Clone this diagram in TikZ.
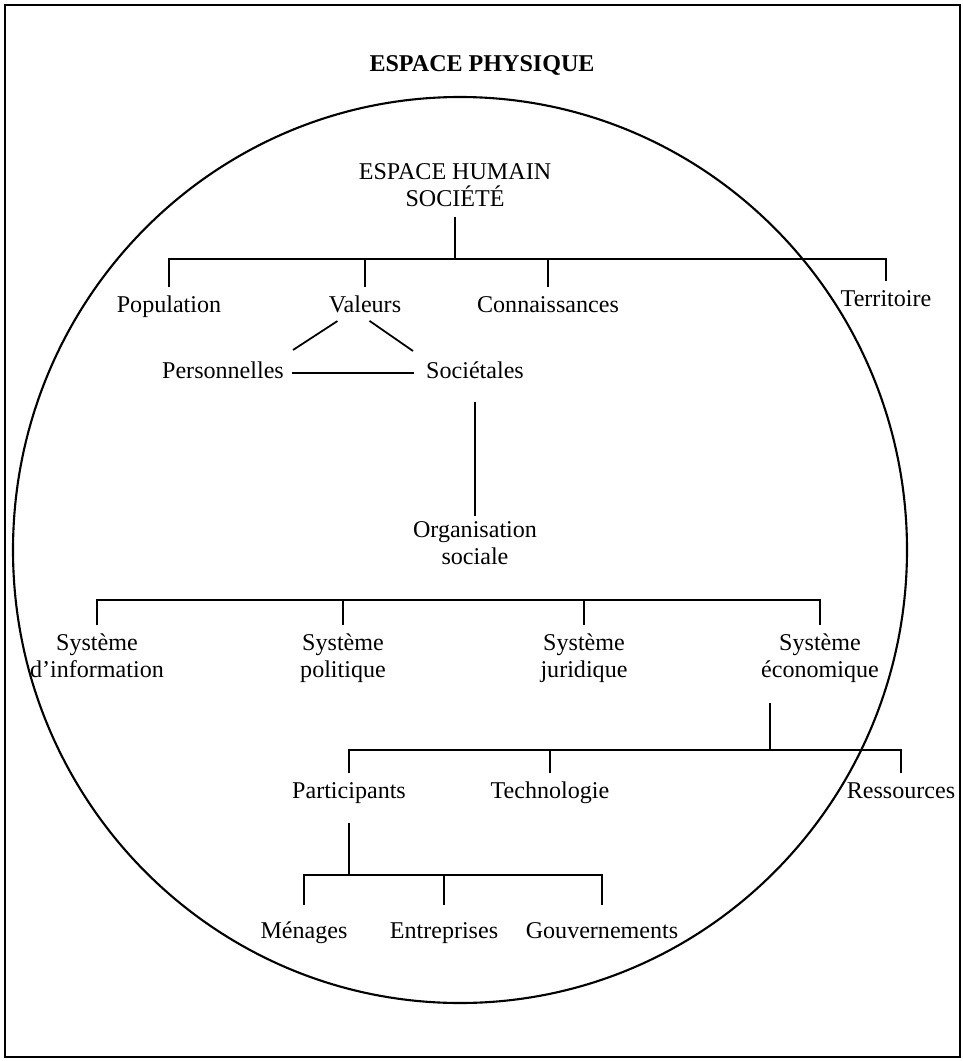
\documentclass[tikz,border=0pt]{standalone}
\usepackage{fontspec}
\setmainfont{Liberation Serif}
\begin{document}
\begin{tikzpicture}
	[	x=0.02cm,y=-0.02cm,
	lbl/.style={inner xsep=2pt,inner ysep=0pt,outer sep=0pt,anchor=north,align=center,font=\fontsize{13.7}{15.3}\selectfont},
	one/.style={lbl,text height=9.4pt},
	title/.style={one,font=\fontsize{13.7}{15.3}\selectfont\bfseries},
	link/.style={line width=1pt},
	tick/.style={link,shorten >=0.18cm},
	]
	\useasboundingbox (0,0) rectangle (963,1061);
	\draw[line width=1pt] (5,5) rectangle (960,1057);
	\draw[line width=1.2pt] (460,550) ellipse [x radius=447,y radius=453];

	\node[title,name=phys] at (482,55) {ESPACE PHYSIQUE};
	\node[lbl,name=hum] at (455,164) {ESPACE HUMAIN\\SOCIÉTÉ};

	\node[one,name=pop] at (169,296) {Population};
	\node[one,name=val] at (365,296) {Valeurs};
	\node[one,name=con] at (548,296) {Connaissances};
	\node[one,name=ter] at (886,290) {Territoire};

	\node[one,name=pers] at (223,362) {Personnelles};
	\node[one,name=soc] at (475,362) {Sociétales};
	\node[lbl,name=org] at (475,522) {Organisation\\sociale};

	\node[lbl,name=sinf] at (97,634) {Système\\d’information};
	\node[lbl,name=spol] at (343,634) {Système\\politique};
	\node[lbl,name=sjur] at (584,634) {Système\\juridique};
	\node[lbl,name=seco] at (820,634) {Système\\économique};

	\node[one,name=part] at (349,782) {Participants};
	\node[one,name=tech] at (550,782) {Technologie};
	\node[one,name=res] at (901,782) {Ressources};

	\node[one,name=men] at (304,922) {Ménages};
	\node[one,name=ent] at (444,922) {Entreprises};
	\node[one,name=gov] at (602,922) {Gouvernements};

	\coordinate (b1) at (455,259);
	\draw[link,shorten <=0.2cm] (hum.south) -- (hum.south |- b1);
	\draw[tick,shorten <=0.18cm] (pop.north) -- (pop |- b1) -- (ter |- b1) -- (ter.north);
	\foreach \nd in {val,con} \draw[tick] (\nd |- b1) -- (\nd.north);

	\draw[link,shorten <=0.3cm] ([shift={(-15,0)}]val.south) -- ([shift={(70,-12)}]pers.north);
	\draw[link,shorten <=0.28cm] ([shift={(-7,0)}]val.south) -- ([shift={(-62,-11)}]soc.north);
	\draw[link,shorten <=0.1cm,shorten >=0.17cm] ([yshift=-0.05cm]pers.east) -- ([yshift=-0.05cm]pers.east -| soc.west);
	\draw[link,shorten <=0.46cm,shorten >=0.12cm] (soc.south) -- (org.north);

	\coordinate (b2) at (475,600);
	\draw[tick,shorten <=0.18cm] (sinf.north) -- (sinf |- b2) -- (seco |- b2) -- (seco.north);
	\foreach \nd in {spol,sjur} \draw[tick] (\nd |- b2) -- (\nd.north);

	\coordinate (b3) at (770,750);
	\draw[link,shorten <=0.4cm] (seco.south -| b3) -- (b3);
	\draw[tick,shorten <=0.18cm] (part.north) -- (part |- b3) -- (res |- b3) -- (res.north);
	\draw[tick] (tech |- b3) -- (tech.north);

	\coordinate (b4) at (347,875);
	\draw[link,shorten <=0.38cm] (part.south) -- (part.south |- b4);
	\draw[link,shorten <=0.34cm,shorten >=0.34cm] (men.north) -- (men |- b4) -- (gov |- b4) -- (gov.north);
	\draw[link,shorten >=0.34cm] (ent |- b4) -- (ent.north);
\end{tikzpicture}
\end{document}
